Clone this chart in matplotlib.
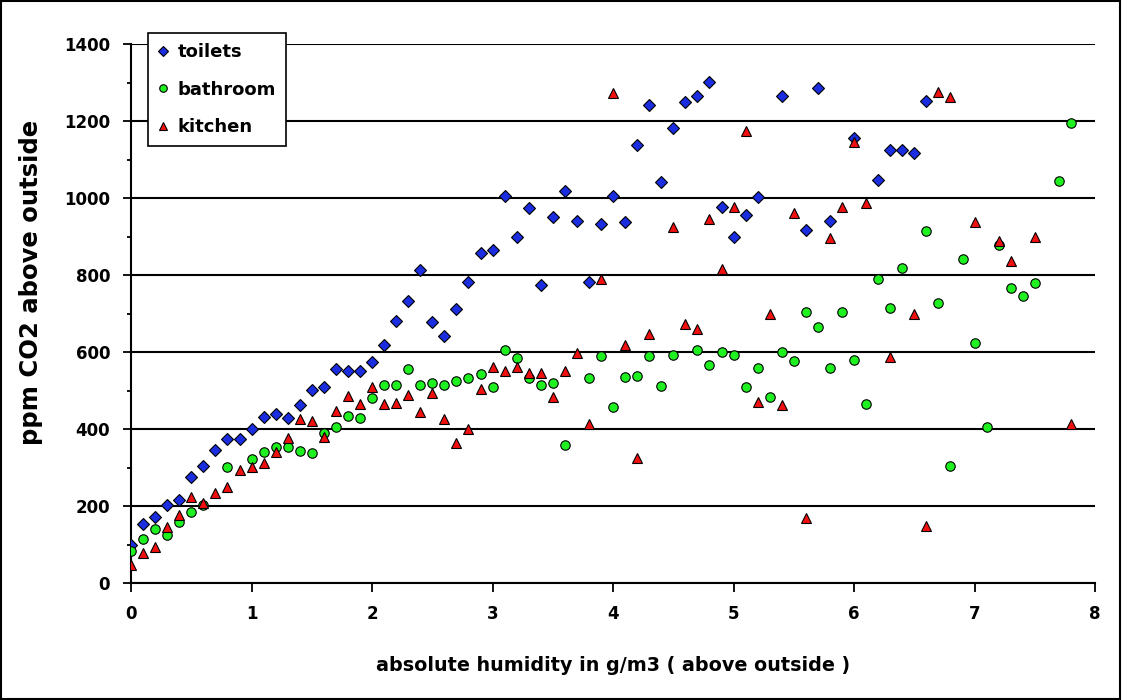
import matplotlib
matplotlib.use('Agg')
import matplotlib.pyplot as plt
import numpy as np

# absolute humidity (g/m3 above outside) vs ppm CO2 above outside
toilets_x = [0.0, 0.1, 0.2, 0.3, 0.4, 0.5, 0.6, 0.7, 0.8, 0.9,
             1.0, 1.1, 1.2, 1.3, 1.4, 1.5, 1.6, 1.7, 1.8, 1.9,
             2.0, 2.1, 2.2, 2.3, 2.4, 2.5, 2.6, 2.7, 2.8, 2.9,
             3.0, 3.1, 3.2, 3.3, 3.4, 3.5, 3.6, 3.7, 3.8, 3.9,
             4.0, 4.1, 4.2, 4.3, 4.4, 4.5, 4.6, 4.7, 4.8, 4.9,
             5.0, 5.1, 5.2, 5.4, 5.6, 5.7, 5.8, 6.0, 6.2, 6.3, 6.4, 6.5, 6.6]
toilets_y = [100, 153, 171, 202, 215, 275, 303, 347, 374, 374,
             400, 431, 439, 429, 462, 501, 509, 556, 551, 551,
             574, 618, 680, 732, 813, 678, 641, 712, 782, 857,
             865, 1005, 899, 974, 774, 950, 1018, 940, 782, 932,
             1005, 938, 1138, 1241, 1042, 1182, 1249, 1265, 1301, 977,
             899, 955, 1003, 1265, 917, 1286, 940, 1155, 1047, 1125, 1125, 1117, 1252]

bath_x = [0.0, 0.1, 0.2, 0.3, 0.4, 0.5, 0.6, 0.8,
          1.0, 1.1, 1.2, 1.3, 1.4, 1.5, 1.6, 1.7, 1.8, 1.9,
          2.0, 2.1, 2.2, 2.3, 2.4, 2.5, 2.6, 2.7, 2.8, 2.9,
          3.0, 3.1, 3.2, 3.3, 3.4, 3.5, 3.6, 3.8, 3.9,
          4.0, 4.1, 4.2, 4.3, 4.4, 4.5, 4.7, 4.8, 4.9,
          5.0, 5.1, 5.2, 5.3, 5.4, 5.5, 5.6, 5.7, 5.8, 5.9,
          6.0, 6.1, 6.2, 6.3, 6.4, 6.6, 6.7, 6.8, 6.9,
          7.0, 7.1, 7.2, 7.3, 7.4, 7.5, 7.7, 7.8]
bath_y = [83, 114, 140, 125, 158, 184, 203, 301,
          322, 340, 353, 353, 343, 338, 390, 405, 434, 429,
          481, 514, 514, 556, 514, 519, 514, 525, 532, 543,
          509, 605, 584, 532, 514, 519, 358, 532, 590,
          457, 535, 538, 590, 512, 592, 605, 566, 600,
          592, 509, 558, 483, 600, 577, 704, 665, 558, 704,
          579, 465, 790, 714, 818, 914, 727, 304, 841,
          623, 405, 878, 766, 745, 779, 1044, 1195]

kit_x = [0.0, 0.1, 0.2, 0.3, 0.4, 0.5, 0.6, 0.7, 0.8, 0.9,
         1.0, 1.1, 1.2, 1.3, 1.4, 1.5, 1.6, 1.7, 1.8, 1.9,
         2.0, 2.1, 2.2, 2.3, 2.4, 2.5, 2.6, 2.7, 2.8, 2.9,
         3.0, 3.1, 3.2, 3.3, 3.4, 3.5, 3.6, 3.7, 3.8, 3.9,
         4.0, 4.1, 4.2, 4.3, 4.5, 4.6, 4.7, 4.8, 4.9,
         5.0, 5.1, 5.2, 5.3, 5.4, 5.5, 5.6, 5.8, 5.9,
         6.0, 6.1, 6.3, 6.5, 6.6, 6.7, 6.8,
         7.0, 7.2, 7.3, 7.5, 7.8]
kit_y = [47, 78, 94, 145, 177, 223, 208, 234, 249, 293,
         301, 312, 341, 377, 426, 421, 379, 447, 486, 465,
         509, 465, 468, 489, 444, 493, 426, 364, 400, 504,
         561, 551, 561, 545, 545, 483, 551, 597, 413, 790,
         1273, 618, 325, 647, 925, 673, 660, 945, 816,
         977, 1174, 470, 699, 462, 961, 169, 896, 977,
         1145, 987, 587, 699, 148, 1275, 1262,
         938, 888, 836, 899, 413]

labels = ['toilets', 'bathroom', 'kitchen']
x_ticks = [0, 1, 2, 3, 4, 5, 6, 7, 8]
y_ticks = [0, 200, 400, 600, 800, 1000, 1200, 1400]

plt.rcParams['font.family'] = ['DejaVu Sans']
plt.rcParams['font.weight'] = 'bold'

fig = plt.figure(figsize=(11.22, 7.0), dpi=100)
ax = fig.add_axes([0.1168, 0.167, 0.8592, 0.770])

ax.plot(toilets_x, toilets_y, linestyle='none', marker='D', ms=6.2,
        mfc='#1a2ee0', mec='black', mew=0.8, label=labels[0], zorder=3)
ax.plot(bath_x, bath_y, linestyle='none', marker='o', ms=6.8,
        mfc='#1ff01f', mec='black', mew=0.8, label=labels[1], zorder=4)
ax.plot(kit_x, kit_y, linestyle='none', marker='^', ms=7.8,
        mfc='#f01010', mec='black', mew=0.8, label=labels[2], zorder=5)

ax.set_xlim(0, 8)
ax.set_ylim(0, 1400)
ax.set_xticks(x_ticks)
ax.set_yticks(y_ticks)
ax.set_yticks(np.arange(100, 1400, 200), minor=True)
ax.yaxis.grid(True, which='major', color='black', lw=1.5)
ax.set_axisbelow(True)

for s in ['top', 'right']:
    ax.spines[s].set_visible(False)
for s in ['left', 'bottom']:
    ax.spines[s].set_linewidth(1.5)

ax.tick_params(axis='x', which='major', length=6.5, width=1.3, pad=9, labelsize=12)
ax.tick_params(axis='y', which='major', length=6, width=1.3, pad=9, labelsize=12)
ax.tick_params(axis='y', which='minor', length=3, width=1.3)
for t in ax.get_xticklabels() + ax.get_yticklabels():
    t.set_fontweight('bold')

ax.set_xlabel('absolute humidity in g/m3 ( above outside )', fontsize=13.8,
              fontweight='bold', labelpad=24)
ax.set_ylabel('ppm CO2 above outside', fontsize=17.5, fontweight='bold', labelpad=15)
ax.yaxis.label.set_y(0.557)

leg = ax.legend(loc='upper left', bbox_to_anchor=(0.0176, 1.02), borderaxespad=0,
                fancybox=False, framealpha=1, edgecolor='black',
                handlelength=0.6, handletextpad=0.5, labelspacing=1.07,
                borderpad=0.55, markerscale=0.8, prop={'weight': 'bold', 'size': 13})
leg.get_frame().set_linewidth(1.2)

fig.patches.append(plt.Rectangle((0.001, 0.002), 0.997, 0.996, transform=fig.transFigure,
                                 fill=False, edgecolor='black', lw=1.5))

fig.savefig('out.png', dpi=100)
